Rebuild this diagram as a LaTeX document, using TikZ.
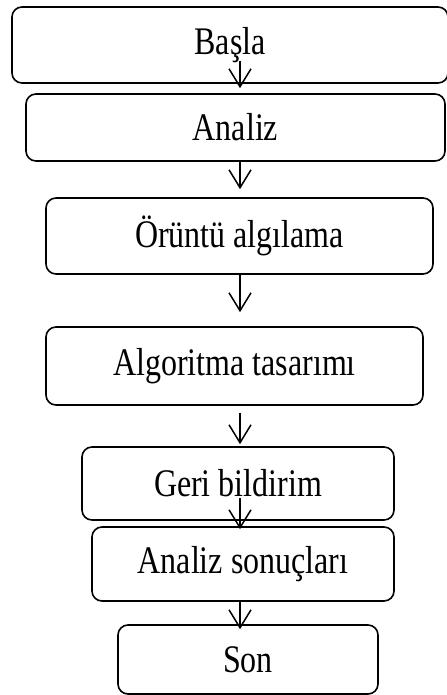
\documentclass[tikz,border=0pt]{standalone}
\usepackage{fontspec}
\setmainfont{Liberation Serif}
\usetikzlibrary{arrows.meta,positioning,calc}
\newcommand{\tallt}[1]{\scalebox{1}[1.22]{#1}}

\begin{document}
\begin{tikzpicture}[
    x=0.5pt, y=-0.5pt,
    box/.style={draw, rounded corners=5pt, line width=0.8pt, align=center,
                font=\fontsize{16}{19}\selectfont, inner sep=0pt},
    arr/.style={-{Straight Barb[length=9pt,width=11pt,line width=0.75pt]}, line width=0.75pt}
]
\useasboundingbox (0,0) rectangle (446,695);
\node[box, minimum width=218pt, minimum height=38pt] (basla) at (230,45) {\tallt{Başla}};
\node[box, minimum width=209.5pt, minimum height=33.5pt] (analiz) at (235.5,127.5) {\tallt{Analiz}};
\node[box, minimum width=193.5pt, minimum height=38pt] (oruntu) at (239.5,236) {\tallt{Örüntü algılama}};
\node[box, minimum width=188.5pt, minimum height=39pt] (algo) at (234.5,366) {\tallt{Algoritma tasarımı}};
\node[box, minimum width=156pt, minimum height=36.5pt] (geri) at (238,483.5) {\tallt{Geri bildirim}};
\node[box, minimum width=151pt, minimum height=37pt] (sonuc) at (243,564) {\tallt{Analiz sonuçları}};
\node[box, minimum width=130pt, minimum height=34.5pt] (son) at (248,659.5) {\tallt{Son}};

\coordinate (ax) at (240,0);
\draw[arr, shorten <=-11.5pt, shorten >=2.5pt] (basla.south -| ax) -- (analiz.north -| ax);
\draw[arr, shorten >=4pt] (analiz.south -| ax) -- (oruntu.north -| ax);
\draw[arr, shorten >=7pt] (oruntu.south -| ax) -- (algo.north -| ax);
\draw[arr, shorten <=3.5pt, shorten >=1pt] (algo.south -| ax) -- (geri.north -| ax);
\draw[arr, shorten <=-11.5pt, shorten >=-1.5pt] (geri.south -| ax) -- (sonuc.north -| ax);
\draw[arr, shorten >=-2.5pt] (sonuc.south -| ax) -- (son.north -| ax);
\end{tikzpicture}
\end{document}
